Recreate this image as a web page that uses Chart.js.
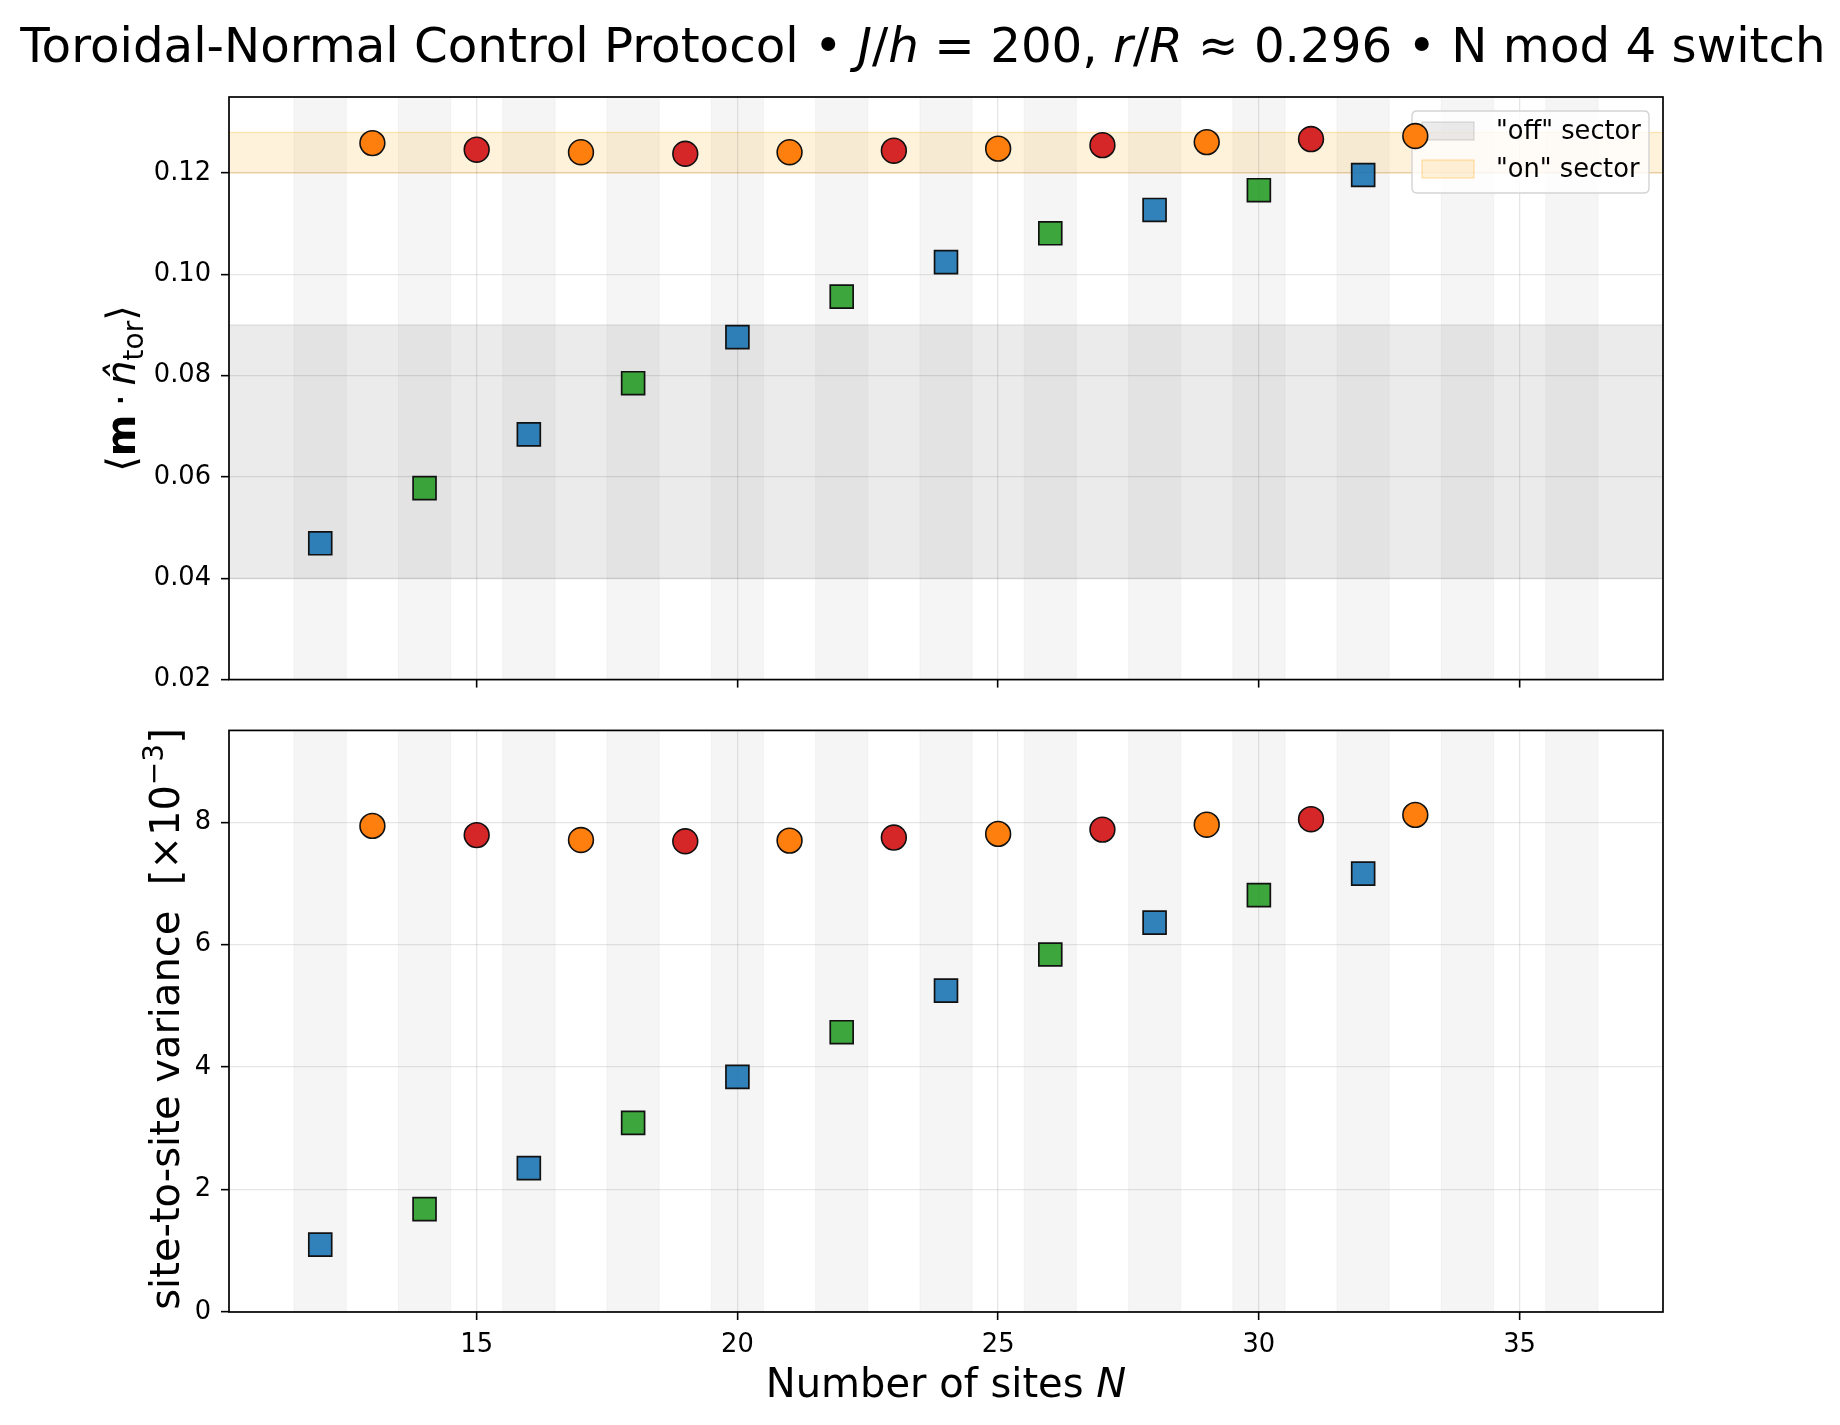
<!DOCTYPE html>
<html><head><meta charset="utf-8">
<script src="https://cdn.jsdelivr.net/npm/chart.js@4.4.1/dist/chart.umd.min.js"></script>
<style>
html,body{margin:0;padding:0;background:#fff;}
#wrap{position:relative;width:1840px;height:1425px;background:#fff;overflow:hidden;}
canvas{position:absolute;left:0;}
</style></head><body>
<div id="wrap">
<canvas id="c1" width="1840" height="705" style="top:0px"></canvas>
<canvas id="c2" width="1840" height="720" style="top:705px"></canvas>
</div>
<script>
// ---------------- data ----------------
const nMod0 = [12, 16, 20, 24, 28, 32];
const nMod2 = [14, 18, 22, 26, 30];
const nMod1 = [13, 17, 21, 25, 29, 33];
const nMod3 = [15, 19, 23, 27, 31];

// top panel: <m . n_tor>
const projMod0 = [0.0469, 0.0684, 0.0876, 0.1024, 0.1127, 0.1196];
const projMod2 = [0.0578, 0.0785, 0.0956, 0.1081, 0.1166];
const projMod1 = [0.1259, 0.1241, 0.1241, 0.1248, 0.1261, 0.1273];
const projMod3 = [0.1246, 0.1238, 0.1244, 0.1255, 0.1267];

// bottom panel: site-to-site variance [x1e-3]
const varMod0 = [1.10, 2.35, 3.84, 5.25, 6.36, 7.16];
const varMod2 = [1.68, 3.09, 4.57, 5.84, 6.81];
const varMod1 = [7.94, 7.71, 7.70, 7.81, 7.96, 8.12];
const varMod3 = [7.79, 7.69, 7.75, 7.88, 8.05];

// shaded columns (even N) and sectors
const stripeCenters = [12, 14, 16, 18, 20, 22, 24, 26, 28, 30, 32, 34, 36];
const offSector = [0.04, 0.09];
const onSector = [0.120, 0.128];
const sectorLabels = ['"off" sector', '"on" sector'];

// axes
const xRange = [10.25, 37.75];
const xTickValues = [15, 20, 25, 30, 35];
const xTickLabels = ['15', '20', '25', '30', '35'];
const topYRange = [0.02, 0.135];
const topYTickValues = [0.02, 0.04, 0.06, 0.08, 0.10, 0.12];
const topYTickLabels = ['0.02', '0.04', '0.06', '0.08', '0.10', '0.12'];
const botYRange = [0, 9.5];
const botYTickValues = [0, 2, 4, 6, 8];
const botYTickLabels = ['0', '2', '4', '6', '8'];

// ---------------- styling ----------------
const FAM = '"DejaVu Sans", sans-serif';
const fnt = (style, size) => `${style} ${size}px ${FAM}`;
const TICK = 25.7;
const LAB = 40;
const TITLE = 48.3;

Chart.defaults.font.family = FAM;

const styles = {
  mod0: {pointStyle: 'rect', r: 16.2, bw: 1.7, fill: 'rgba(31,119,180,0.92)'},
  mod2: {pointStyle: 'rect', r: 16.2, bw: 1.7, fill: 'rgba(44,160,44,0.92)'},
  mod1: {pointStyle: 'circle', r: 12.4, bw: 1.6, fill: '#ff7f0e'},
  mod3: {pointStyle: 'circle', r: 12.4, bw: 1.6, fill: '#d62728'}
};

function ds(label, xs, ys, st) {
  return {
    label, data: xs.map((n, i) => ({x: n, y: ys[i]})),
    pointStyle: st.pointStyle, pointRadius: st.r, pointHoverRadius: st.r,
    pointBackgroundColor: st.fill, backgroundColor: st.fill,
    pointBorderColor: '#111', borderColor: '#111', pointBorderWidth: st.bw,
    showLine: false
  };
}

// ---------------- plugins ----------------
const bgPlugin = {
  id: 'bg',
  beforeDraw(chart, args, opts) {
    const {ctx, chartArea: a, scales: {x, y}} = chart;
    ctx.save();
    ctx.beginPath(); ctx.rect(a.left, a.top, a.width, a.height); ctx.clip();
    for (const c of stripeCenters) {
      const x0 = x.getPixelForValue(c - 0.5), x1 = x.getPixelForValue(c + 0.5);
      ctx.fillStyle = 'rgba(0,0,0,0.04)';
      ctx.fillRect(x0, a.top, x1 - x0, a.height);
      ctx.strokeStyle = 'rgba(0,0,0,0.035)'; ctx.lineWidth = 1.3;
      ctx.strokeRect(x0, a.top - 3, x1 - x0, a.height + 6);
    }
    for (const b of (opts.bands || [])) {
      const y0 = y.getPixelForValue(b.range[1]), y1 = y.getPixelForValue(b.range[0]);
      ctx.fillStyle = b.fill; ctx.fillRect(a.left, y0, a.width, y1 - y0);
      ctx.strokeStyle = b.edge; ctx.lineWidth = 1.3;
      ctx.strokeRect(a.left - 3, y0, a.width + 6, y1 - y0);
    }
    ctx.restore();
  }
};

function roundRect(ctx, x, y, w, h, r) {
  ctx.beginPath();
  ctx.moveTo(x + r, y); ctx.lineTo(x + w - r, y); ctx.quadraticCurveTo(x + w, y, x + w, y + r);
  ctx.lineTo(x + w, y + h - r); ctx.quadraticCurveTo(x + w, y + h, x + w - r, y + h);
  ctx.lineTo(x + r, y + h); ctx.quadraticCurveTo(x, y + h, x, y + h - r);
  ctx.lineTo(x, y + r); ctx.quadraticCurveTo(x, y, x + r, y); ctx.closePath();
}

const legendPlugin = {
  id: 'sectorLegend',
  beforeDatasetsDraw(chart, args, opts) {
    if (!opts.items) return;
    const {ctx, chartArea: a} = chart;
    const w = 237, h = 82;
    const bx = a.right - 14 - w, by = a.top + 14;
    ctx.save();
    roundRect(ctx, bx, by, w, h, 5);
    ctx.fillStyle = 'rgba(255,255,255,0.8)'; ctx.fill();
    ctx.strokeStyle = '#d3d3d3'; ctx.lineWidth = 1.4; ctx.stroke();
    opts.items.forEach((it, i) => {
      const cy = by + 20 + i * 38;
      ctx.fillStyle = it.fill; ctx.fillRect(bx + 10, cy - 9, 52, 18);
      ctx.strokeStyle = it.edge; ctx.lineWidth = 1.3; ctx.strokeRect(bx + 10, cy - 9, 52, 18);
      ctx.fillStyle = '#000'; ctx.font = fnt('normal', TICK);
      ctx.textAlign = 'left'; ctx.textBaseline = 'middle';
      ctx.fillText(it.label, bx + 84, cy + 1);
    });
    ctx.restore();
  }
};

function drawRich(ctx, parts, cx, cy, rot) {
  ctx.save();
  ctx.translate(cx, cy); ctx.rotate(rot || 0);
  let w = 0;
  for (const p of parts) { ctx.font = p.font; w += ctx.measureText(p.t).width; }
  let x = -w / 2;
  ctx.textAlign = 'left'; ctx.textBaseline = 'alphabetic'; ctx.fillStyle = '#000';
  for (const p of parts) { ctx.font = p.font; ctx.fillText(p.t, x, p.dy || 0); x += ctx.measureText(p.t).width; }
  ctx.restore();
}

const framePlugin = {
  id: 'frame',
  afterDraw(chart, args, opts) {
    const {ctx, chartArea: a} = chart;
    ctx.save();
    ctx.strokeStyle = '#000'; ctx.lineWidth = 1.7;
    ctx.strokeRect(a.left, a.top, a.width, a.height);
    ctx.restore();
    for (const t of (opts.texts || [])) drawRich(ctx, t.parts, t.x, t.y, t.rot);
  }
};

// ---------------- charts ----------------
function makeChart(id, cfg) {
  return new Chart(document.getElementById(id), {
    type: 'scatter',
    data: {datasets: cfg.datasets},
    options: {
      responsive: false, animation: false, devicePixelRatio: 1, events: [],
      layout: {padding: {left: 0, right: 177, top: cfg.padTop, bottom: 0}},
      plugins: {
        legend: {display: false}, tooltip: {enabled: false}, title: {display: false},
        bg: {bands: cfg.bands || []},
        sectorLegend: {items: cfg.legend || null},
        frame: {texts: cfg.texts || []}
      },
      scales: {
        x: {
          type: 'linear', min: xRange[0], max: xRange[1],
          afterBuildTicks: s => { s.ticks = xTickValues.map(v => ({value: v})); },
          afterFit: s => { s.height = cfg.xH; },
          grid: {color: 'rgba(0,0,0,0.1)', lineWidth: 1.3, tickColor: '#000', tickLength: 8, tickWidth: 1.6, drawTicks: true},
          border: {display: false},
          ticks: {display: cfg.showX, font: {family: FAM, size: TICK}, color: '#000', padding: 10, maxRotation: 0,
                  callback: (v, i) => xTickLabels[i]}
        },
        y: {
          type: 'linear', min: cfg.yRange[0], max: cfg.yRange[1],
          afterBuildTicks: s => { s.ticks = cfg.yTicks.map(v => ({value: v})); },
          afterFit: s => { s.width = 229; },
          grid: {color: 'rgba(0,0,0,0.1)', lineWidth: 1.3, tickColor: '#000', tickLength: 8, tickWidth: 1.6, drawTicks: true},
          border: {display: false},
          ticks: {font: {family: FAM, size: TICK}, color: '#000', padding: 10,
                  callback: (v, i) => cfg.yLabels[i]}
        }
      }
    },
    plugins: [bgPlugin, legendPlugin, framePlugin]
  });
}

const n = s => fnt('normal', s), it = s => fnt('italic', s), bd = s => fnt('bold', s);

makeChart('c1', {
  padTop: 97, xH: 23, showX: false,
  yRange: topYRange, yTicks: topYTickValues, yLabels: topYTickLabels,
  datasets: [
    ds('N mod 4 = 1', nMod1, projMod1, styles.mod1),
    ds('N mod 4 = 3', nMod3, projMod3, styles.mod3),
    ds('N mod 4 = 0', nMod0, projMod0, styles.mod0),
    ds('N mod 4 = 2', nMod2, projMod2, styles.mod2)
  ],
  bands: [
    {range: offSector, fill: 'rgba(128,128,128,0.16)', edge: 'rgba(128,128,128,0.2)'},
    {range: onSector, fill: 'rgba(255,165,0,0.14)', edge: 'rgba(255,165,0,0.28)'}
  ],
  legend: [
    {label: sectorLabels[0], fill: 'rgba(128,128,128,0.16)', edge: 'rgba(128,128,128,0.25)'},
    {label: sectorLabels[1], fill: 'rgba(255,165,0,0.14)', edge: 'rgba(255,165,0,0.3)'}
  ],
  texts: [
    {x: 923, y: 62, rot: 0, parts: [
      {t: 'Toroidal-Normal Control Protocol • ', font: n(TITLE)},
      {t: 'J', font: it(TITLE)}, {t: '/', font: n(TITLE)}, {t: 'h', font: it(TITLE)},
      {t: ' = 200, ', font: n(TITLE)},
      {t: 'r', font: it(TITLE)}, {t: '/', font: n(TITLE)}, {t: 'R', font: it(TITLE)},
      {t: ' ≈ 0.296 • N mod 4 switch', font: n(TITLE)}
    ]},
    {x: 134.5, y: 388.5, rot: -Math.PI / 2, parts: [
      {t: '⟨', font: n(LAB)}, {t: 'm', font: bd(LAB)}, {t: '\u2009·\u2009', font: n(LAB)},
      {t: 'n\u0302', font: it(LAB)}, {t: 'tor', font: n(28), dy: 8}, {t: '⟩', font: n(LAB)}
    ]}
  ]
});

makeChart('c2', {
  padTop: 21, xH: 113, showX: true,
  yRange: botYRange, yTicks: botYTickValues, yLabels: botYTickLabels,
  datasets: [
    ds('N mod 4 = 1', nMod1, varMod1, styles.mod1),
    ds('N mod 4 = 3', nMod3, varMod3, styles.mod3),
    ds('N mod 4 = 0', nMod0, varMod0, styles.mod0),
    ds('N mod 4 = 2', nMod2, varMod2, styles.mod2)
  ],
  texts: [
    {x: 179, y: 314, rot: -Math.PI / 2, parts: [
      {t: 'site-to-site variance  [×10', font: n(LAB)}, {t: '−3', font: n(28), dy: -16}, {t: ']', font: n(LAB)}
    ]},
    {x: 946, y: 692, rot: 0, parts: [
      {t: 'Number of sites ', font: n(LAB)}, {t: 'N', font: it(LAB)}
    ]}
  ]
});
</script>
</body></html>
